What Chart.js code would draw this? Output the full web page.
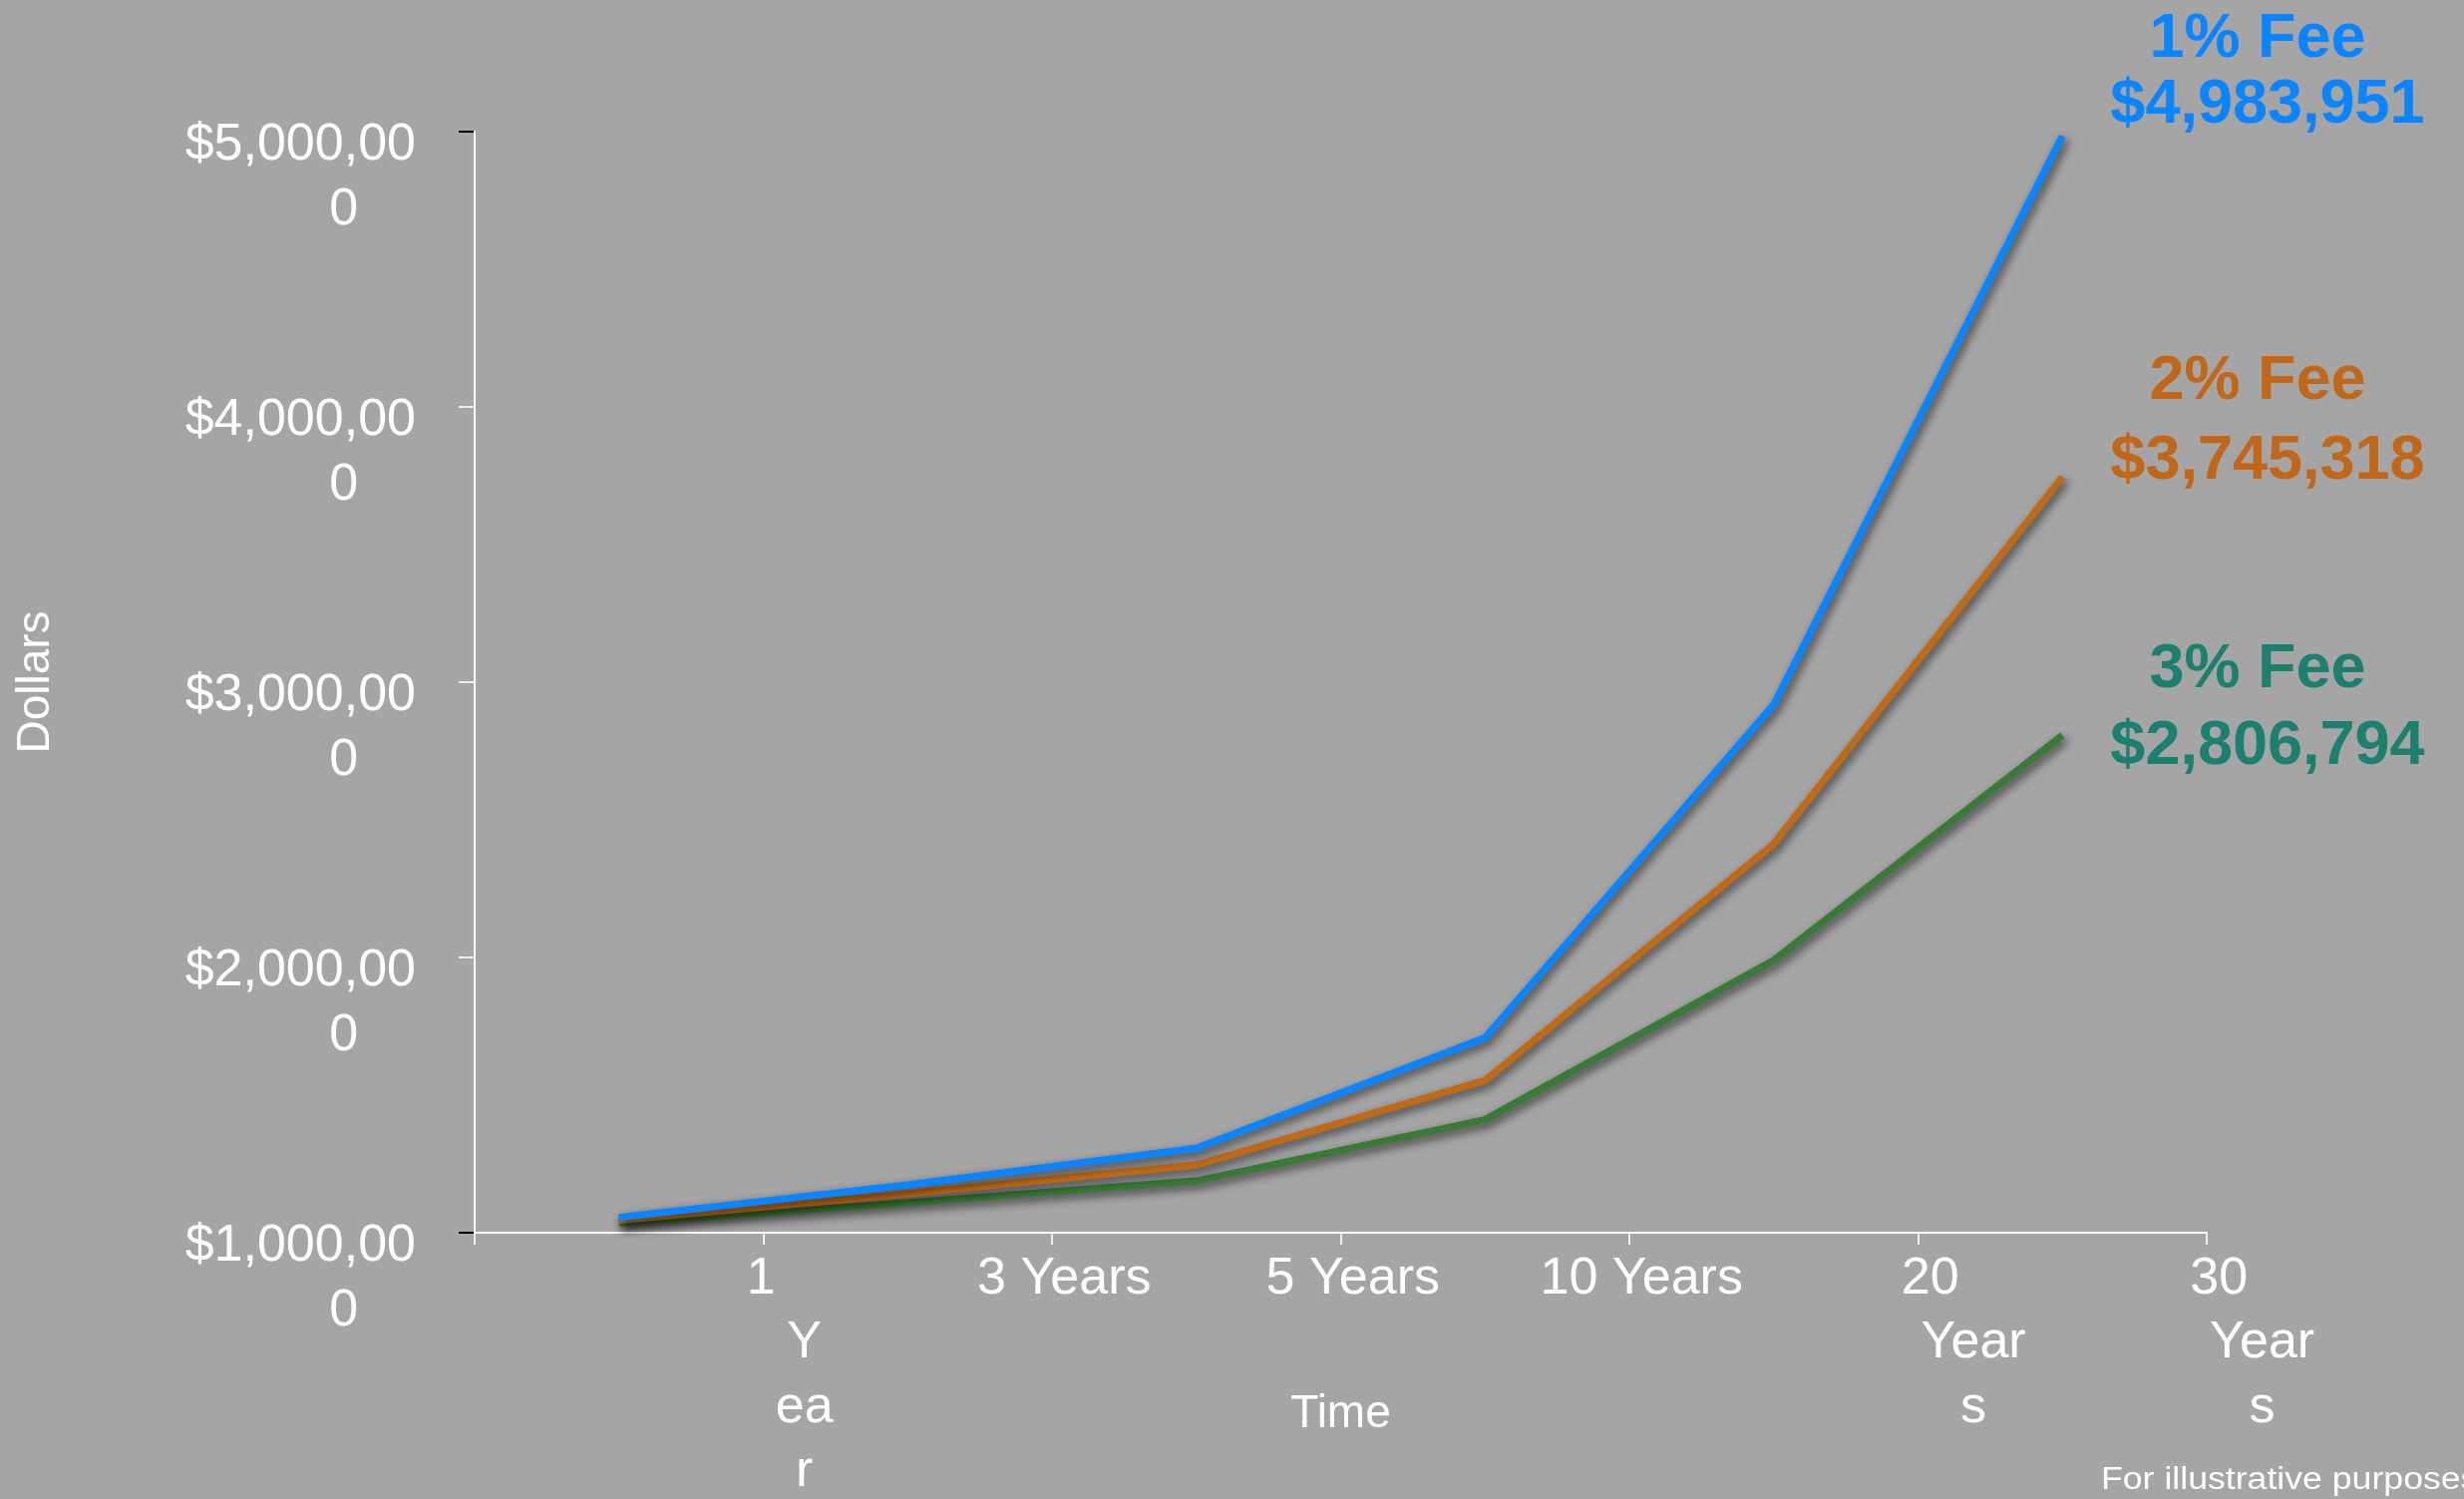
<!DOCTYPE html>
<html>
<head>
<meta charset="utf-8">
<title>Fee comparison</title>
<script src="https://cdn.jsdelivr.net/npm/chart.js@4/dist/chart.umd.min.js"></script>
<style>
  html, body { margin: 0; padding: 0; background: #a5a5a5; overflow: hidden; }
  canvas { display: block; }
</style>
</head>
<body>
<canvas id="feeChart" width="2471" height="1503"></canvas>
<script>
// data (spaces mimic the odd wrapping of the original labels)
const years = [
    ['1  ', '    Y', '    ea', '    r'],
    '3 Years',
    '5 Years',
    '10 Years',
    ['20', '      Year', '      s'],
    ['30', '      Year', '      s']
];
const fee1 = [1055000, 1174000, 1307000, 1708000, 2918000, 4983951];
const fee2 = [1045000, 1141000, 1246000, 1553000, 2412000, 3745318];
const fee3 = [1035000, 1109000, 1188000, 1411000, 1990000, 2806794];
const yTicks = [1000000, 2000000, 3000000, 4000000, 5000000];
const feeNames = ['1% Fee', '2% Fee', '3% Fee'];
const feeTotals = ['$4,983,951', '$3,745,318', '$2,806,794'];

const lineColors = ['#0a84ff', '#c06a17', '#3a7a37'];
const textColors = ['#0a84ff', '#c0671a', '#1d7f6e'];
const FONT = '"Liberation Sans", Arial, sans-serif';

// fill background
const bgPlugin = {
    id: 'bg',
    beforeDraw(chart) {
        const c = chart.ctx;
        c.save();
        c.fillStyle = '#a5a5a5';
        c.fillRect(0, 0, chart.width, chart.height);
        c.restore();
    }
};

// soft drop shadow under the lines
const shadowPlugin = {
    id: 'lineShadow',
    beforeDatasetsDraw(chart) {
        const c = chart.ctx;
        c.save();
        c.shadowColor = 'rgba(0,0,0,0.65)';
        c.shadowBlur = 10;
        c.shadowOffsetX = 3;
        c.shadowOffsetY = 4;
    },
    afterDatasetsDraw(chart) {
        chart.ctx.restore();
    }
};

// fee labels at the right and footnote
const labelPlugin = {
    id: 'feeLabels',
    afterDraw(chart) {
        const c = chart.ctx;
        const rows = [[40, 106], [383, 463], [672, 749]];
        c.save();
        c.textAlign = 'center';
        c.textBaseline = 'middle';
        c.font = 'bold 63px ' + FONT;
        feeNames.forEach((name, i) => {
            c.fillStyle = textColors[i];
            c.fillText(name, 2264, rows[i][0]);
            c.fillText(feeTotals[i], 2274, rows[i][1]);
        });
        // footnote runs off the right edge like in the original
        c.textAlign = 'left';
        c.textBaseline = 'alphabetic';
        c.font = '31px ' + FONT;
        c.fillStyle = '#ffffff';
        c.translate(2107, 1493);
        c.scale(1.15, 1);
        c.fillText('For illustrative purposes only', 0, 0);
        c.restore();
    }
};

function makeSet(label, data, color) {
    return {
        label: label,
        data: data,
        borderColor: color,
        backgroundColor: color,
        borderWidth: 7,
        pointRadius: 0,
        tension: 0,
        fill: false,
        clip: false
    };
}

new Chart(document.getElementById('feeChart'), {
    type: 'line',
    data: {
        labels: years,
        datasets: [
            makeSet(feeNames[0], fee1, lineColors[0]),
            makeSet(feeNames[1], fee2, lineColors[1]),
            makeSet(feeNames[2], fee3, lineColors[2])
        ]
    },
    options: {
        responsive: false,
        devicePixelRatio: 1,
        animation: false,
        layout: { padding: { left: 0, right: 258, top: 132, bottom: 0 } },
        plugins: {
            legend: { display: false },
            tooltip: { enabled: false }
        },
        scales: {
            x: {
                offset: true,
                grid: {
                    offset: true,
                    drawOnChartArea: false,
                    drawTicks: true,
                    tickLength: 12,
                    color: '#ececec',
                    lineWidth: 2
                },
                border: { display: true, color: '#ffffff', width: 2 },
                ticks: {
                    color: '#ffffff',
                    font: { family: FONT, size: 52, lineHeight: 1.24 },
                    padding: 2,
                    labelOffset: 157,
                    maxRotation: 0,
                    minRotation: 0,
                    autoSkip: false
                },
                title: {
                    display: true,
                    text: 'Time',
                    color: '#ffffff',
                    font: { family: FONT, size: 46, lineHeight: 1.2 },
                    padding: { top: 0, bottom: 57 }
                },
                afterFit(scale) { scale.height = 267; }
            },
            y: {
                min: 1000000,
                max: 5000000,
                afterBuildTicks(scale) {
                    scale.ticks = yTicks.map(v => ({ value: v }));
                },
                grid: {
                    drawOnChartArea: false,
                    drawTicks: true,
                    tickLength: 16,
                    lineWidth: 2,
                    tickColor: ctx => (ctx.tick && (ctx.tick.value === 1000000 || ctx.tick.value === 5000000)) ? '#000000' : '#ececec'
                },
                border: { display: true, color: '#ffffff', width: 2 },
                ticks: {
                    color: '#ffffff',
                    font: { family: FONT, size: 52, lineHeight: 1.25 },
                    padding: 43,
                    labelOffset: 46,
                    callback: function(value) {
                        const s = '$' + Number(value).toLocaleString('en-US');
                        return [s.slice(0, -1), s.slice(-1) + '    '];
                    }
                },
                title: {
                    display: true,
                    text: 'Dollars',
                    color: '#ffffff',
                    font: { family: FONT, size: 46, lineHeight: 1.2 },
                    padding: { top: 9, bottom: 0 }
                },
                afterFit(scale) { scale.width = 476; }
            }
        }
    },
    plugins: [bgPlugin, shadowPlugin, labelPlugin]
});
</script>
</body>
</html>
